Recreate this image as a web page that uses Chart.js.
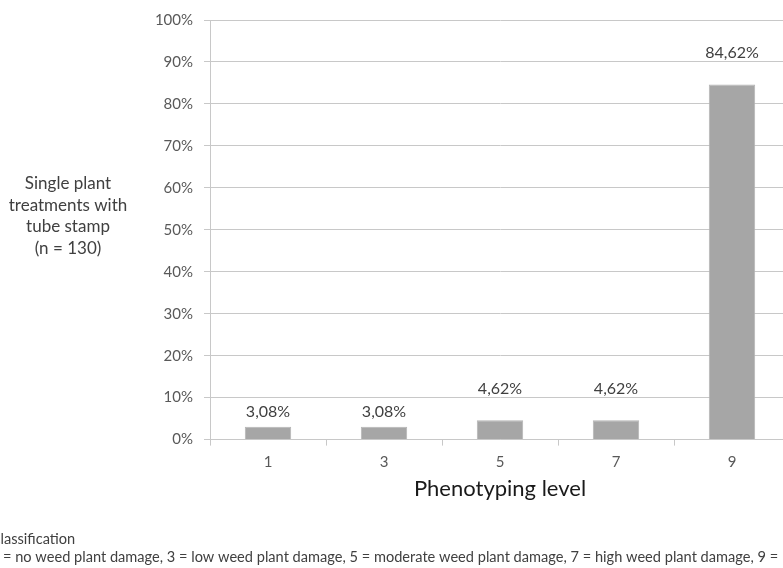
<!DOCTYPE html>
<html>
<head>
<meta charset="utf-8">
<script src="https://cdn.jsdelivr.net/npm/chart.js@4.4.1/dist/chart.umd.min.js"></script>
<style>
  html, body { margin: 0; padding: 0; background: #ffffff; overflow: hidden; }
  #wrap { position: relative; width: 783px; height: 568px; overflow: hidden; }
  canvas { display: block; }
</style>
</head>
<body>
<div id="wrap"><canvas id="chart" width="800" height="568"></canvas></div>
<script>
// Phenotyping levels and share of single plant treatments (tube stamp, n = 130)
const levels = ["1", "3", "5", "7", "9"];
const shares = [3.08, 3.08, 4.62, 4.62, 84.62];
const yTitleLines = ["Single plant", "treatments with", "tube stamp", "(n = 130)"];
const xTitle = "Phenotyping level";
const noteTitle = "Classification";
const noteText = "1 = no weed plant damage, 3 = low weed plant damage, 5 = moderate weed plant damage, 7 = high weed plant damage, 9 =";

const FONT = "Lato, 'Open Sans', 'Liberation Sans', sans-serif";
const TICK_COLOR = "#595959";
const GRID_COLOR = "#c8c8c8";
const BAR_COLOR = "#a6a6a6";

const fmt = v => v.toFixed(2).replace(".", ",") + "%";

// value labels above the bars, lifted over a gridline when they would touch it
const valueLabels = {
  id: "valueLabels",
  afterDatasetsDraw(chart) {
    const ctx = chart.ctx;
    const y = chart.scales.y;
    const gridYs = y.ticks.map(t => y.getPixelForValue(t.value));
    const meta = chart.getDatasetMeta(0);
    ctx.save();
    ctx.font = "16px " + FONT;
    ctx.fillStyle = "#404040";
    ctx.textAlign = "center";
    ctx.textBaseline = "middle";
    meta.data.forEach((bar, i) => {
      let cy = bar.y - 15;
      for (const g of gridYs) {
        if (Math.abs(g - cy) < 10) { cy = g - 9; break; }
      }
      ctx.fillText(fmt(shares[i]), bar.x, cy);
    });
    ctx.restore();
  }
};

// horizontal y-axis caption and the classification note
const sideTexts = {
  id: "sideTexts",
  afterDraw(chart) {
    const ctx = chart.ctx;
    ctx.save();
    ctx.font = "17px " + FONT;
    ctx.fillStyle = "#404040";
    ctx.textAlign = "center";
    ctx.textBaseline = "middle";
    yTitleLines.forEach((line, i) => ctx.fillText(line, 68, 184 + i * 21.5));

    ctx.font = "14.6px " + FONT;
    ctx.textAlign = "left";
    ctx.fillStyle = "#404040";
    ctx.fillText(noteTitle, -ctx.measureText("C").width + 0.5, 539);
    ctx.fillText(noteText, 3 - ctx.measureText("1 ").width, 557);
    ctx.restore();
  }
};

new Chart(document.getElementById("chart"), {
  type: "bar",
  data: {
    labels: levels,
    datasets: [{
      data: shares,
      backgroundColor: BAR_COLOR,
      borderColor: "#b4b4b4",
      borderWidth: 1,
      barPercentage: 0.4,
      categoryPercentage: 1.0
    }]
  },
  options: {
    responsive: false,
    animation: false,
    devicePixelRatio: 1,
    layout: { padding: { top: 19, right: 10, bottom: 66, left: 0 } },
    plugins: {
      legend: { display: false },
      tooltip: { enabled: false }
    },
    scales: {
      x: {
        offset: true,
        grid: {
          offset: true,
          drawOnChartArea: false,
          drawTicks: true,
          tickLength: 6,
          color: GRID_COLOR
        },
        border: { color: GRID_COLOR },
        ticks: {
          color: TICK_COLOR,
          font: { family: FONT, size: 15 },
          padding: 8
        },
        title: {
          display: true,
          text: xTitle,
          color: "#1a1a1a",
          font: { family: FONT, size: 22 },
          padding: { top: -4, bottom: 0 }
        }
      },
      y: {
        min: 0,
        max: 100,
        afterFit(scale) { scale.width = 210; },
        grid: {
          color: GRID_COLOR,
          drawTicks: true,
          tickLength: 6
        },
        border: { color: GRID_COLOR },
        ticks: {
          stepSize: 10,
          color: TICK_COLOR,
          font: { family: FONT, size: 15 },
          padding: 11,
          callback: v => v + "%"
        }
      }
    }
  },
  plugins: [valueLabels, sideTexts]
});
</script>
</body>
</html>
